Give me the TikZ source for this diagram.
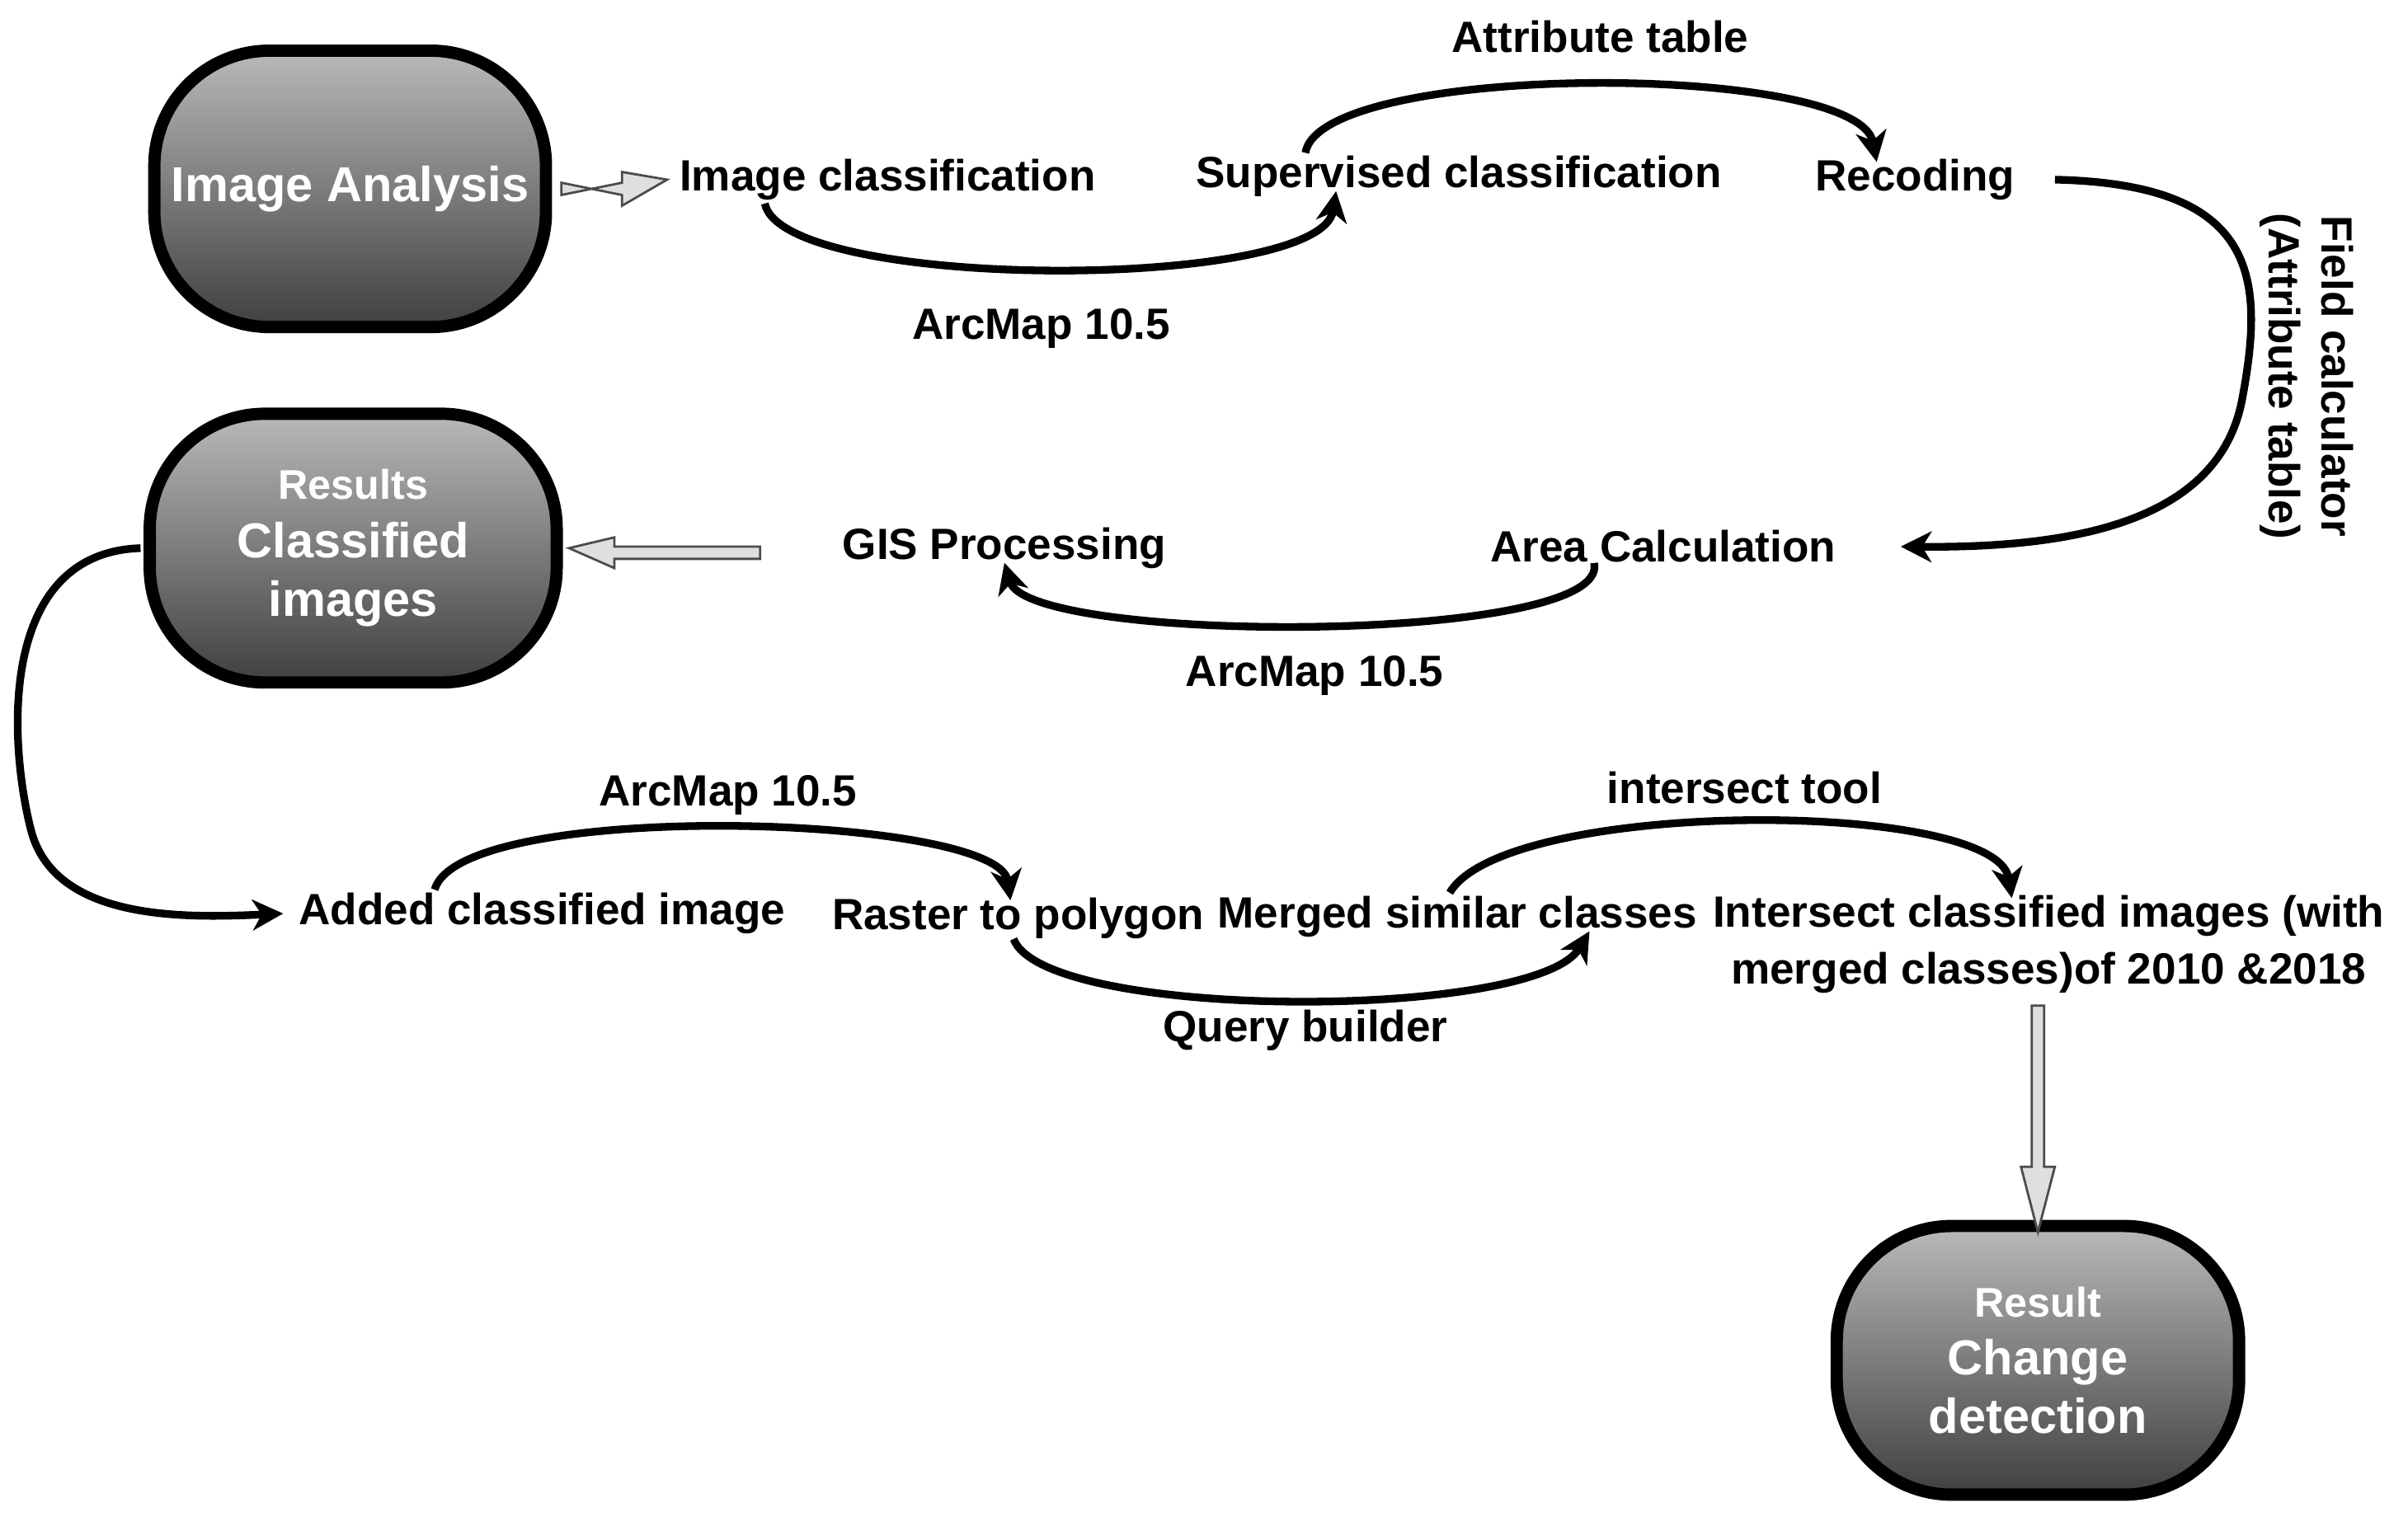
\documentclass[tikz,border=0pt]{standalone}
\usepackage{fontspec}
\setmainfont{Liberation Sans}
\usetikzlibrary{arrows.meta}
\begin{document}
\begin{tikzpicture}[x=1pt,y=-1pt,
  term/.style={draw=black,line width=8pt,rounded corners=75pt,minimum width=255pt,minimum height=180pt,
    top color=gray!55,bottom color=black!75,text=white,font=\fontsize{32}{38}\selectfont\bfseries,align=center,inner sep=0pt},
  lbl/.style={font=\fontsize{28.5}{34}\selectfont\bfseries,inner sep=2pt,align=center},
  con/.style={line width=5pt,-{Stealth[length=20pt,width=20pt,inset=6pt]}},
  hollow/.style={draw=black!70,line width=1.5pt,fill=gray!25}]
\useasboundingbox (0,0) rectangle (1568,997);
\node[term] (ia) at (228,123) {Image Analysis};
\node[term,minimum width=265pt,minimum height=175pt] (res) at (230,357) {{\fontsize{27}{32}\selectfont Results}\\Classified\\images};
\node[term,minimum width=262pt,minimum height=175pt] (cd) at (1327,886) {{\fontsize{27}{32}\selectfont Result}\\Change\\detection};

\node[lbl] (ic) at (578,117) {Image classification};
\node[lbl] (sc) at (950,115) {Supervised classification};
\node[lbl] (rc) at (1247,117) {Recoding};
\node[lbl] (at) at (1042,24) {Attribute table};
\node[lbl] (am1) at (678,214) {ArcMap 10.5};
\node[lbl,rotate=-90] (fc) at (1502,245) {Field calculator\\(Attribute table)};
\node[lbl] (gis) at (654,357) {GIS Processing};
\node[lbl] (ac) at (1083,356) {Area Calculation};
\node[lbl] (am2) at (856,440) {ArcMap 10.5};
\node[lbl] (am3) at (474,518) {ArcMap 10.5};
\node[lbl] (add) at (353,595) {Added classified image};
\node[lbl] (rp) at (663,598) {Raster to polygon};
\node[lbl] (ms) at (949,597) {Merged similar classes};
\node[lbl] (it) at (1136,513) {intersect tool};
\node[lbl,font=\fontsize{28.5}{37}\selectfont\bfseries] (ici) at (1334,615) {Intersect classified images (with\\merged classes)of 2010 \&2018};
\node[lbl] (qb) at (850,671) {Query builder};

% hollow arrows
\path[hollow] ([xshift=6pt,yshift=-4pt]ia.east) -- (405,119) -- (405,112) -- ([xshift=-6pt]ic.west) -- (405,134) -- (405,127) -- ([xshift=6pt,yshift=4pt]ia.east) -- cycle;
\path[hollow] (495,356) -- (400,356) -- (400,350) -- ([xshift=4pt]res.east) -- (400,370) -- (400,364) -- (495,364) -- cycle;
\path[hollow] (1323,655) -- (1323,760) -- (1316,760) -- ([yshift=-8pt]cd.north) -- (1338,760) -- (1331,760) -- (1331,655) -- cycle;

% curved connectors
\draw[con] ([xshift=-80pt,yshift=0pt]ic.south) .. controls (510,190) and (860,190) .. ([xshift=-80pt,yshift=6pt]sc.south);
\draw[con] ([xshift=-100pt,yshift=0pt]sc.north) .. controls (860,40) and (1210,40) .. ([xshift=-25pt,yshift=-4pt]rc.north);
\draw[con] ([xshift=24pt]rc.east) .. controls (1470,120) and (1475,180) .. (1460,260) .. controls (1445,340) and (1350,357) .. ([xshift=40pt]ac.east);
\draw[con] ([xshift=-45pt,yshift=2pt]ac.south) .. controls (1050,420) and (670,420) .. ([yshift=6pt]gis.south);
\draw[con] ([xshift=-2pt]res.west) .. controls (0,360) and (5,480) .. (20,540) .. controls (35,600) and (120,598) .. ([xshift=-8pt]add.west);
\draw[con] ([xshift=-70pt,yshift=0pt]add.north) .. controls (300,520) and (650,530) .. ([xshift=-5pt,yshift=-4pt]rp.north);
\draw[con] ([xshift=-3pt,yshift=2pt]rp.south) .. controls (680,665) and (1000,665) .. ([xshift=86pt,yshift=6pt]ms.south);
\draw[con] ([xshift=-5pt,yshift=0pt]ms.north) .. controls (980,520) and (1300,520) .. ([xshift=-24pt,yshift=-4pt]ici.north);
\end{tikzpicture}
\end{document}
